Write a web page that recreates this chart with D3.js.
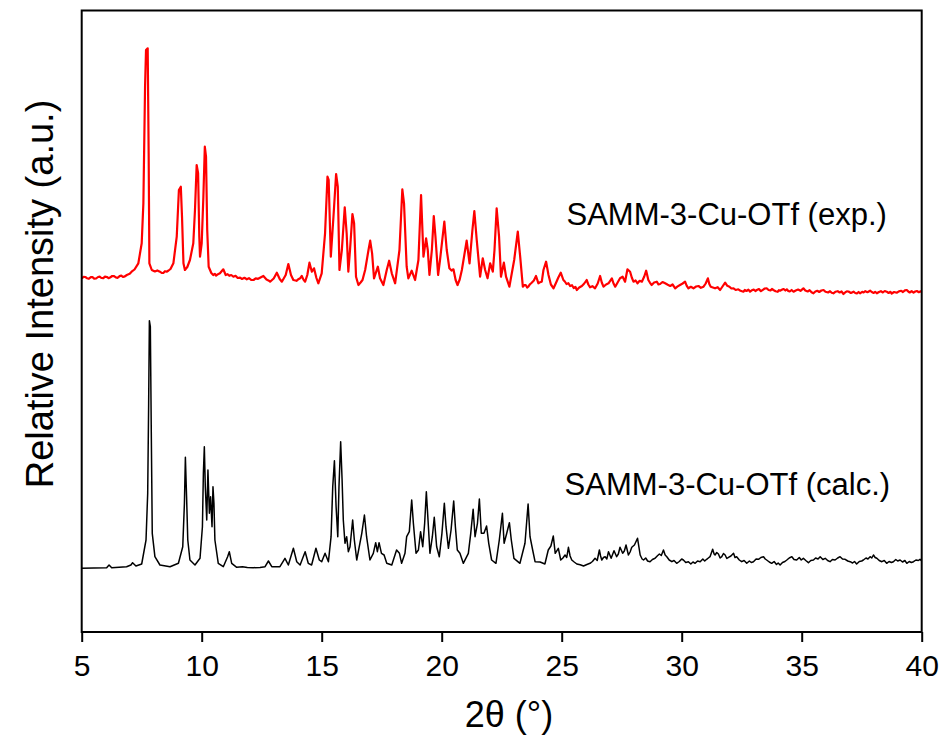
<!DOCTYPE html>
<html>
<head>
<meta charset="utf-8">
<script src="https://cdn.jsdelivr.net/npm/d3@7"></script>
<style>
  html, body { margin: 0; padding: 0; background: #fff; }
  svg { display: block; }
  text { font-family: "Liberation Sans", Arial, Helvetica, sans-serif; fill: #000; }
</style>
</head>
<body>
<svg id="chart" width="943" height="738"></svg>
<script>
// Powder XRD patterns: 2θ (deg) and relative intensity (a.u.)
const thetaTicks = [5, 10, 15, 20, 25, 30, 35, 40];

const seriesNames = ["SAMM-3-Cu-OTf (exp.)", "SAMM-3-Cu-OTf (calc.)"];

// vertical stacking offsets (a.u.)
const expOffset = 280;
const calcOffset = 62;

// experimental pattern [2θ, intensity]
const expPattern = [
  [5.00,73.7],[5.08,75.2],[5.15,75.0],[5.22,73.8],[5.30,73.2],[5.38,74.9],[5.45,74.8],[5.52,73.4],
  [5.60,73.5],[5.68,75.0],[5.75,75.3],[5.82,74.0],[5.90,73.9],[5.97,75.4],[6.05,75.0],[6.12,73.8],
  [6.18,74.4],[6.27,76.0],[6.35,75.8],[6.42,74.6],[6.50,74.2],[6.58,75.9],[6.65,76.4],[6.72,75.0],
  [6.80,75.6],[6.88,77],[7.00,78.2],[7.08,80.3],
  [7.20,82.5],[7.36,88.7],[7.50,108.7],[7.57,148.7],[7.64,265.3],[7.68,302],[7.75,303.7],[7.79,198.7],
  [7.82,88.7],[7.92,82],[8.05,80.5],[8.15,81.6],[8.26,80.3],[8.33,79.2],[8.40,79.0],[8.47,80.8],[8.54,80.3],[8.62,81.5],[8.70,83.0],[8.82,88.7],
  [8.96,115.3],[9.05,162],[9.13,165.3],[9.18,135.3],[9.24,88.7],[9.30,82],[9.40,85],[9.51,92],
  [9.65,108.7],[9.72,142],[9.79,187],[9.85,178.7],[9.90,115.3],[9.93,95.3],[10.00,108.7],[10.07,155.3],
  [10.13,205.3],[10.18,195.3],[10.23,122],[10.29,85.3],[10.40,79],[10.48,77],[10.55,78.2],[10.60,76.5],[10.68,77.8],[10.76,78.7],
  [10.90,82.7],[11.00,77],[11.08,77.8],[11.15,76.2],[11.23,77.0],[11.32,75.3],[11.41,76.2],[11.50,74.0],[11.60,74.3],[11.68,73.0],[11.78,74.2],[11.88,72.7],[11.97,73.8],[12.06,72.2],[12.16,72],
  [12.25,73.6],[12.35,73.2],[12.45,74.5],[12.57,76],[12.70,72.5],[12.78,71.6],[12.85,70.3],[12.93,72.0],[13.00,73.5],[13.13,79.3],[13.25,73.0],[13.34,70.3],
  [13.50,77],[13.61,88],[13.72,77],[13.82,72],[13.95,71.2],[14.03,72.8],[14.10,73.7],[14.17,76],[14.24,72.4],[14.31,70.3],
  [14.40,77],[14.49,89.3],[14.59,80.3],[14.68,83.7],[14.78,74],[14.86,68.7],[15.00,78.7],[15.14,118.7],
  [15.24,175.3],[15.29,172],[15.38,95.3],[15.49,135.3],[15.60,178],[15.67,165.3],[15.74,82],[15.84,102],
  [15.96,144.7],[16.04,118.7],[16.11,80.3],[16.18,102],[16.28,138],[16.35,128.7],[16.43,75.3],[16.53,67],
  [16.62,69.5],[16.70,72],[16.81,82],[16.95,102],[17.02,111.3],[17.10,98.7],[17.18,73.7],[17.34,85.3],[17.43,73.7],
  [17.57,67],[17.71,82],[17.81,91.3],[17.92,78.7],[18.06,68.7],[18.24,102],[18.36,162.7],[18.43,148.7],
  [18.54,85.3],[18.61,73.7],[18.75,81.3],[18.89,72],[19.03,92],[19.14,157],[19.24,95.3],[19.35,113.7],
  [19.42,102],[19.49,77],[19.59,102],[19.67,136],[19.74,115.3],[19.85,77],[19.93,92],[20.11,130.3],
  [20.21,102],[20.32,83.7],[20.41,81.5],[20.49,82.7],[20.58,72],[20.66,67],[20.75,72.5],[20.84,82],[21.04,111.3],[21.16,88.7],[21.28,122],
  [21.36,141],[21.46,112],[21.60,75.3],[21.71,93.7],[21.81,82],[21.91,73.7],[22.02,88.7],[22.13,80.3],
  [22.20,102],[22.29,143.7],[22.39,115.3],[22.47,75.3],[22.59,89.3],[22.68,75.3],[22.82,65.3],[23.02,92],
  [23.17,120.3],[23.27,95.3],[23.38,65.3],[23.44,66.8],[23.50,67],[23.56,64.5],[23.61,65.3],[23.68,67.8],[23.75,69.3],[23.84,71.5],[23.93,76],[24.03,68.7],
  [24.10,69.8],[24.17,70.3],[24.24,82],[24.35,90.3],[24.45,77],[24.55,67.5],[24.66,63.7],[24.76,69.0],[24.86,74.5],[24.96,79.3],[25.07,72],
  [25.13,70.5],[25.20,68],[25.28,68.8],[25.35,66],[25.43,66.8],[25.50,64],[25.57,65.2],[25.63,62],[25.73,64.5],[25.84,66],[25.94,68.5],[26.04,72],[26.11,67.5],[26.18,64.7],[26.28,65.8],[26.39,63.7],
  [26.50,68.5],[26.60,76],[26.67,69.5],[26.74,65.3],[26.85,67.5],[26.95,68.7],[27.09,73.7],[27.16,68.5],[27.23,65.3],[27.33,69.5],[27.43,73.7],[27.54,75.3],[27.64,70.3],
  [27.74,82.7],[27.85,80.3],[27.92,74.5],[27.99,70.3],[28.08,71.5],[28.16,68.7],[28.25,71.2],[28.34,70.3],[28.44,75.5],[28.52,81.3],[28.61,72],[28.68,69.2],[28.75,67],
  [28.85,69.5],[28.96,70.3],[29.03,67.6],[29.10,68],[29.20,70.0],[29.31,68.7],[29.42,67.2],[29.52,66],[29.62,67.5],[29.73,63.7],[29.83,65.6],[29.93,67],[30.04,68.5],[30.14,70.3],[30.21,66.2],[30.28,63.7],
  [30.38,65.2],[30.49,63.7],[30.60,65.5],[30.70,66],[30.80,64.2],[30.91,65.3],[31.00,68.5],[31.09,73.7],[31.15,68.0],[31.21,65.3],[31.30,64.5],[31.39,63.7],[31.50,64.8],[31.60,62],[31.70,65.5],[31.81,69.3],
  [31.90,66.2],[31.99,65.3],[32.07,63.5],[32.16,63.7],[32.25,62.0],[32.36,62.7],[32.45,61.2],[32.57,60.3],[32.63,62.0],[32.70,61.0],[32.78,62.4],[32.85,60.3],[32.93,61.8],[33.00,62.5],[33.07,61.0],[33.13,62],
  [33.22,63.0],[33.30,60.8],[33.38,62.2],[33.46,63.5],[33.54,63.7],[33.62,62.0],[33.70,61.5],[33.76,63.0],[33.82,62],[33.91,60.8],[34.00,60.2],[34.05,61.8],[34.10,61.3],[34.18,62.4],[34.25,63.0],[34.32,61.5],
  [34.38,62.7],[34.44,61.0],[34.50,60.5],[34.58,62.0],[34.66,60.3],[34.75,61.5],[34.85,62.5],[34.95,61.2],[35.07,63.7],[35.15,61.5],[35.25,60.5],[35.33,61.8],[35.41,59.8],[35.49,58.7],[35.57,60.5],[35.65,61.2],
  [35.73,60.0],[35.82,61.5],[35.91,62],[35.99,60.2],[36.10,59.5],[36.18,60.8],[36.25,59.2],[36.32,58.7],[36.40,60.2],[36.50,60.8],[36.58,59.5],[36.66,60.5],[36.74,58],[36.82,59.8],[36.88,60.6],[36.95,60.5],
  [37.05,59.0],[37.16,60.3],[37.23,59.0],[37.30,58.5],[37.37,60.0],[37.43,58.7],[37.52,60.2],[37.58,59.5],[37.65,60.8],[37.74,59.8],[37.85,61.3],[37.92,60.0],[38.00,59.0],[38.06,60.2],[38.13,58.7],[38.22,60.0],
  [38.30,60.8],[38.38,59.5],[38.46,61.0],[38.54,60.3],[38.62,59.0],[38.70,60.2],[38.75,58.5],[38.85,60.0],[38.96,59.3],[39.05,60.6],[39.15,61.2],[39.22,60.0],[39.30,61.6],[39.38,62],[39.44,60.5],[39.50,59.5],
  [39.58,60.8],[39.66,59.3],[39.73,60.5],[39.80,61.0],[39.88,59.8],[39.94,60.6],[40.00,60.3]
];

// calculated pattern [2θ, intensity]
const calcPattern = [
  [5.00,1.7],[5.50,2.0],[6.04,2.3],[6.14,5],[6.25,2.3],[6.87,3.3],[7.05,5],[7.12,7.3],
  [7.26,4],[7.50,6],[7.68,30],[7.75,76.7],[7.79,166.7],[7.82,249.3],[7.86,243.3],[7.90,136.7],
  [7.94,36.7],[8.05,13.3],[8.26,5],[8.68,3.3],[9.03,6.7],[9.21,23.3],[9.28,66.7],[9.32,112.7],
  [9.37,73.3],[9.42,30],[9.51,10],[9.72,5],[9.93,11.7],[10.03,43.3],[10.07,96.7],[10.11,123.3],
  [10.15,83.3],[10.21,50],[10.26,100],[10.32,56.7],[10.37,73.3],[10.43,43.3],[10.47,83.3],[10.51,66.7],
  [10.55,30],[10.69,6.7],[10.90,3.3],[11.08,13.3],[11.15,18.3],[11.25,6.7],[11.46,2.7],[11.70,3.2],
  [11.90,2.4],[12.15,2.3],
  [12.43,2.5],[12.64,3.3],[12.78,9],[12.92,3.3],[13.26,3.3],[13.47,11.7],[13.61,5],[13.82,21.7],
  [13.96,8.3],[14.10,5],[14.31,18.3],[14.44,6.7],[14.58,5],[14.76,21.7],[14.90,10],[15.00,8.3],
  [15.14,16.7],[15.28,8.3],[15.39,33.3],[15.46,83.3],[15.53,109.3],[15.60,63.3],[15.67,33.3],[15.72,83.3],
  [15.79,128.3],[15.85,90],[15.90,50],[15.97,26.7],[16.04,33.3],[16.11,18.3],[16.18,23.3],[16.29,50],
  [16.36,30],[16.46,10],[16.67,36.7],[16.78,55],[16.87,33.3],[17.01,10],[17.15,16.7],[17.25,27.3],
  [17.32,18.3],[17.39,27.3],[17.49,16.7],[17.60,15],[17.71,6.7],[17.92,5],[18.12,20],[18.24,16.7],
  [18.33,6.7],[18.47,16.7],[18.54,33.3],[18.65,38.3],[18.75,70],[18.82,46.7],[18.93,16.7],[19.03,20],
  [19.12,38.3],[19.21,23.3],[19.29,46.7],[19.36,78.3],[19.43,50],[19.51,16.7],[19.61,33.3],[19.69,52.7],
  [19.79,23.3],[19.90,13.3],[20.01,36.7],[20.11,66.7],[20.18,43.3],[20.28,21.7],[20.39,40],[20.50,69],
  [20.57,43.3],[20.65,20],[20.76,16.7],[20.90,6.7],[21.11,16.7],[21.21,36.7],[21.31,60.7],[21.39,33.3],
  [21.49,46.7],[21.57,71],[21.65,36.7],[21.76,36.7],[21.87,44],[21.96,26.7],[22.08,10],[22.26,6.7],
  [22.40,30],[22.53,56.7],[22.60,26.7],[22.71,36.7],[22.82,47.3],[22.90,30],[23.01,11.7],[23.26,6.7],
  [23.47,26.7],[23.60,66],[23.68,33.3],[23.79,20],[23.89,8.3],[24.10,8],[24.30,6],[24.44,20],
  [24.55,24],[24.65,34],[24.73,16.7],[24.86,21.7],[24.96,10],[25.05,12],[25.14,15],[25.21,12.5],[25.28,22.7],[25.35,14],[25.42,10],
  [25.52,8],[25.63,6],[25.77,5.2],[25.91,4],[26.05,5.5],[26.18,6.7],[26.28,8.5],[26.39,11.7],[26.48,9.5],[26.57,20],[26.62,14],[26.67,10],[26.74,12.5],[26.81,13.3],[26.88,11],[26.95,18.3],
  [27.06,11.7],[27.18,19.3],[27.29,13.3],[27.36,16],[27.43,22.7],[27.54,16.7],[27.61,19],[27.68,25],[27.78,15],[27.85,18],[27.92,22.7],
  [28.03,25],[28.16,31.7],[28.27,15],[28.35,11],[28.41,10],[28.50,12],[28.58,9],[28.68,8.3],[28.78,10.5],[28.89,11.7],[28.98,14],[29.07,16],
  [29.15,14.5],[29.24,20],[29.31,15],[29.38,13.3],[29.48,10],[29.59,8.3],[29.68,9.5],[29.79,6.7],[29.90,8.5],[30.00,11],[30.07,10],[30.17,7.5],
  [30.28,8.3],[30.38,6],[30.47,8],[30.56,6.7],[30.66,9],[30.77,8.3],[30.88,11],[30.96,9],[31.04,10.7],[31.11,12],[31.18,13.3],[31.29,20.7],
  [31.35,16],[31.39,15],[31.46,17.5],[31.53,16],[31.60,12],[31.67,13.3],[31.74,16.5],[31.81,15],[31.88,11.5],[31.95,12.7],[32.05,14],[32.16,16.7],
  [32.22,12.5],[32.29,13.3],[32.40,10],[32.50,8.3],[32.60,9.5],[32.71,6.7],[32.82,9],[32.90,7.5],[32.99,8.3],[33.10,11],[33.20,10.7],[33.30,12.5],
  [33.41,13.3],[33.48,11],[33.54,10],[33.65,8],[33.75,6.7],[33.85,8.5],[33.95,5.5],[34.02,7],[34.10,5],[34.20,7.5],[34.30,8.5],[34.38,10],
  [34.48,12],[34.59,13.3],[34.68,10.5],[34.79,10],[34.90,12.5],[34.98,10],[35.07,11.7],[35.17,9.5],[35.28,7.3],[35.38,9.5],[35.49,10],[35.58,12],
  [35.68,11],[35.77,13.3],[35.88,10.5],[35.98,11.7],[36.08,9.5],[36.18,8.3],[36.28,10.5],[36.39,10],[36.50,12],[36.60,13.3],[36.70,11],[36.81,10.7],
  [36.92,9],[37.02,8.3],[37.12,7],[37.20,8.5],[37.29,6],[37.40,8.5],[37.50,9],[37.57,10],[37.68,12],[37.76,11],[37.85,13.3],[37.92,12],
  [37.99,15],[38.06,12.5],[38.13,11.7],[38.23,9.5],[38.34,8.3],[38.44,9.5],[38.54,6.7],[38.64,8.5],[38.74,7.5],[38.82,8.3],[38.92,10.5],[39.00,9],
  [39.10,10],[39.20,8],[39.30,9.5],[39.38,6.7],[39.48,8.5],[39.57,7.5],[39.66,8.3],[39.76,10],[39.86,9.5],[39.93,10.7],[40.00,9]
];

const svg = d3.select("#chart");
const plot = { left: 81.7, right: 921.7, top: 10.5, bottom: 632 };

const x = d3.scaleLinear().domain([5, 40]).range([plot.left, plot.right]);
const y = d3.scaleLinear().domain([0, 621.5]).range([plot.bottom, plot.top]);

const clipId = "plot-clip";
svg.append("defs").append("clipPath").attr("id", clipId)
  .append("rect")
  .attr("x", plot.left).attr("y", plot.top)
  .attr("width", plot.right - plot.left).attr("height", plot.bottom - plot.top);

const lineFor = offset => d3.line()
  .x(d => x(d[0]))
  .y(d => y(d[1] + offset))
  .curve(d3.curveLinear);

const traces = svg.append("g").attr("clip-path", `url(#${clipId})`);

traces.append("path")
  .datum(calcPattern)
  .attr("fill", "none")
  .attr("stroke", "#000")
  .attr("stroke-width", 1.5)
  .attr("stroke-linejoin", "round")
  .attr("d", lineFor(calcOffset));

traces.append("path")
  .datum(expPattern)
  .attr("fill", "none")
  .attr("stroke", "#ff0000")
  .attr("stroke-width", 2.2)
  .attr("stroke-linejoin", "round")
  .attr("d", lineFor(expOffset));

// frame
svg.append("rect")
  .attr("x", plot.left).attr("y", plot.top)
  .attr("width", plot.right - plot.left).attr("height", plot.bottom - plot.top)
  .attr("fill", "none").attr("stroke", "#000").attr("stroke-width", 2);

// bottom axis
const xAxis = d3.axisBottom(x).tickValues(thetaTicks).tickSize(10).tickPadding(13).tickFormat(d3.format("d"));
const gx = svg.append("g").attr("transform", `translate(0,${plot.bottom})`).call(xAxis);
gx.select(".domain").remove();
gx.selectAll(".tick line").attr("stroke", "#000").attr("stroke-width", 2);
gx.selectAll(".tick text")
  .style("font-family", '"Liberation Sans", Arial, sans-serif')
  .style("font-size", "30px")
  .attr("fill", "#000");

// axis titles
svg.append("text")
  .attr("x", 509).attr("y", 727)
  .attr("text-anchor", "middle")
  .style("font-size", "36px")
  .text("2θ (°)");

svg.append("text")
  .attr("transform", "translate(53,294) rotate(-90)")
  .attr("text-anchor", "middle")
  .style("font-size", "38px")
  .text("Relative Intensity (a.u.)");

// series labels
svg.append("text")
  .attr("x", x(25.2)).attr("y", 225)
  .style("font-size", "31px")
  .text(seriesNames[0]);

svg.append("text")
  .attr("x", x(25.12)).attr("y", 495)
  .style("font-size", "31px")
  .text(seriesNames[1]);
</script>
</body>
</html>
